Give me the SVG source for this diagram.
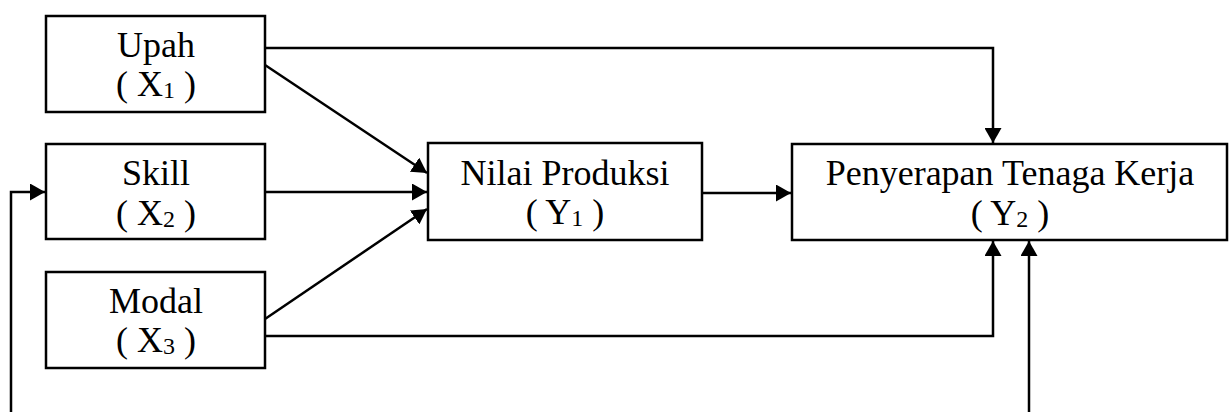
<svg xmlns="http://www.w3.org/2000/svg" width="1229" height="412" viewBox="0 0 1229 412">
<style>
.box{fill:#fff;stroke:#000;stroke-width:2.5}
.t{font-family:"Liberation Serif","Times New Roman",serif;font-size:36px;fill:#000;text-anchor:middle}
.sub{font-size:24px}
.c{fill:none;stroke:#000;stroke-width:2.5}
</style>
<defs>
<marker id="ah" viewBox="0 0 15 17" refX="15" refY="8.5" markerWidth="15" markerHeight="17" markerUnits="userSpaceOnUse" orient="auto">
<path d="M0,0 L15,8.5 L0,17 Z" fill="#000"/>
</marker>
</defs>
<g id="connectors">
<path class="c" d="M265,48 H993 V143" marker-end="url(#ah)"/>
<path class="c" d="M265,65 L427,173" marker-end="url(#ah)"/>
<path class="c" d="M265,192 H427" marker-end="url(#ah)"/>
<path class="c" d="M265,319 L427,209" marker-end="url(#ah)"/>
<path class="c" d="M265,336 H993 V241" marker-end="url(#ah)"/>
<path class="c" d="M702,193 H791" marker-end="url(#ah)"/>
<path class="c" d="M11,412 V192 H45" marker-end="url(#ah)"/>
<path class="c" d="M1029,412 V241" marker-end="url(#ah)"/>
</g>
<g id="upah">
<rect class="box" x="46" y="16" width="219" height="96"/>
<text class="t" x="156" y="57">Upah</text>
<text class="t" x="156" y="96">( X<tspan class="sub" dy="2">1</tspan><tspan dy="-2"> )</tspan></text>
</g>
<g id="skill">
<rect class="box" x="46" y="144" width="219" height="95"/>
<text class="t" x="156" y="185">Skill</text>
<text class="t" x="156" y="225">( X<tspan class="sub" dy="2">2</tspan><tspan dy="-2"> )</tspan></text>
</g>
<g id="modal">
<rect class="box" x="46" y="272" width="219" height="96"/>
<text class="t" x="156" y="313">Modal</text>
<text class="t" x="156" y="352">( X<tspan class="sub" dy="2">3</tspan><tspan dy="-2"> )</tspan></text>
</g>
<g id="nilai">
<rect class="box" x="428" y="143" width="274" height="97"/>
<text class="t" x="565" y="185">Nilai Produksi</text>
<text class="t" x="565" y="224">( Y<tspan class="sub" dy="2">1</tspan><tspan dy="-2"> )</tspan></text>
</g>
<g id="penyerapan">
<rect class="box" x="792" y="144" width="435" height="96"/>
<text class="t" x="1010" y="185">Penyerapan Tenaga Kerja</text>
<text class="t" x="1010" y="225">( Y<tspan class="sub" dy="2">2</tspan><tspan dy="-2"> )</tspan></text>
</g>
</svg>
